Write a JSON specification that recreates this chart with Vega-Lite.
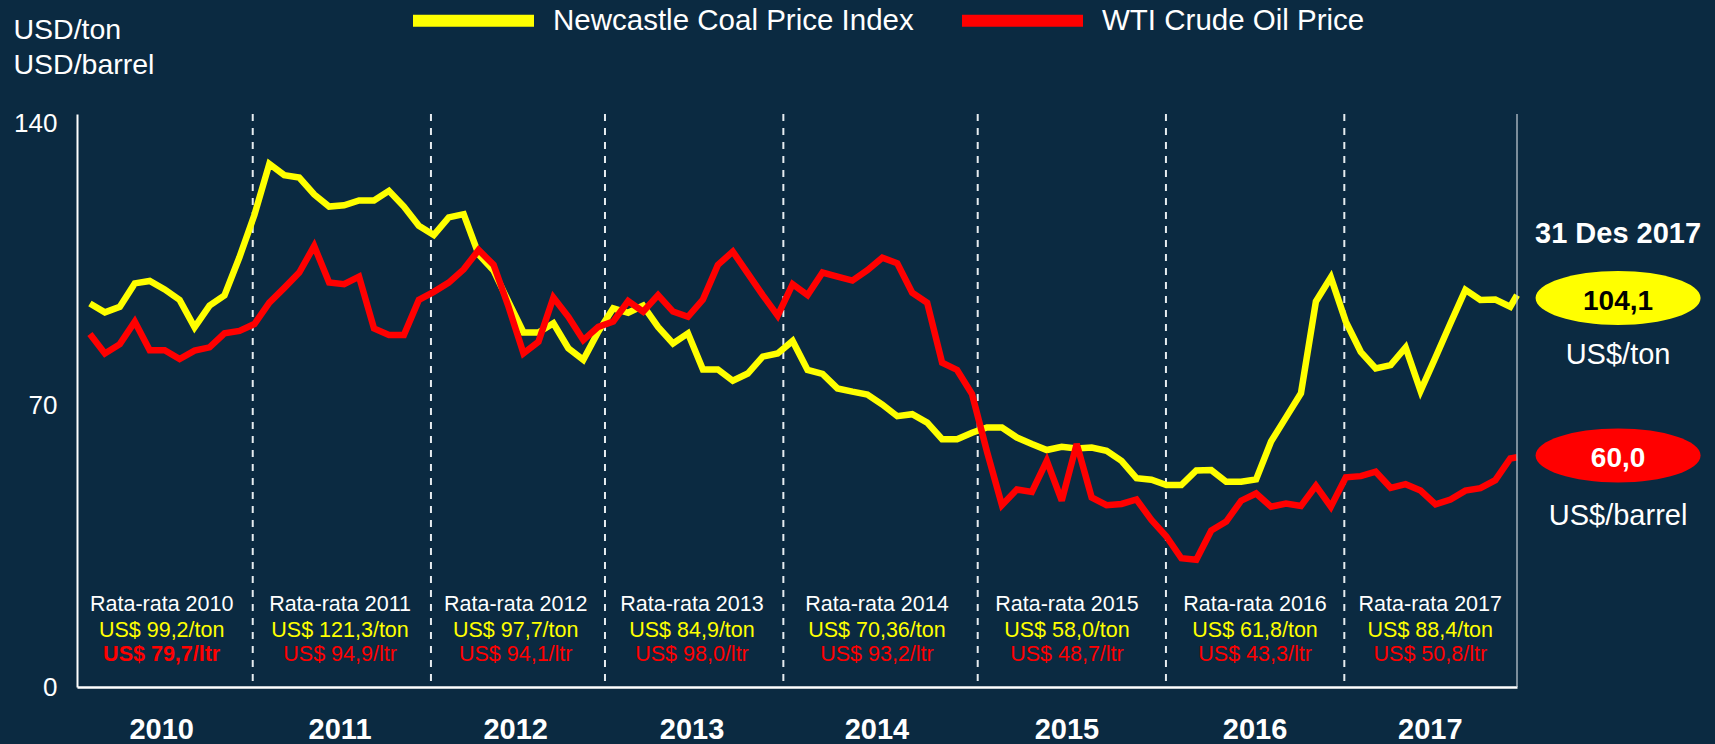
{
  "$schema": "https://vega.github.io/schema/vega-lite/v6.json",
  "width": 1440,
  "height": 573,
  "autosize": "none",
  "padding": {"left": 77, "top": 114, "right": 198, "bottom": 57},
  "background": "#0b2a41",
  "config": {
    "view": {"stroke": null},
    "font": "Liberation Sans",
    "axis": {"grid": false}
  },
  "datasets": {
    "prices": [
      {"k":0,"coal":95.3,"oil":87.7},{"k":1,"coal":93.1,"oil":82.9},{"k":2,"coal":94.5,"oil":85.2},{"k":3,"coal":100.3,"oil":90.8},
      {"k":4,"coal":100.9,"oil":83.7},{"k":5,"coal":98.8,"oil":83.7},{"k":6,"coal":96.2,"oil":81.5},{"k":7,"coal":89.4,"oil":83.6},
      {"k":8,"coal":94.8,"oil":84.4},{"k":9,"coal":97.3,"oil":87.9},{"k":10,"coal":106.8,"oil":88.5},{"k":11,"coal":117.3,"oil":90.2},
      {"k":12,"coal":130.0,"oil":95.5},{"k":13,"coal":127.2,"oil":99.2},{"k":14,"coal":126.6,"oil":103.0},{"k":15,"coal":122.4,"oil":109.6},
      {"k":16,"coal":119.4,"oil":100.5},{"k":17,"coal":119.7,"oil":100.1},{"k":18,"coal":120.9,"oil":102.0},{"k":19,"coal":120.9,"oil":89.1},
      {"k":20,"coal":123.3,"oil":87.5},{"k":21,"coal":119.4,"oil":87.5},{"k":22,"coal":114.6,"oil":96.2},{"k":23,"coal":112.3,"oil":98.2},
      {"k":24,"coal":116.7,"oil":100.5},{"k":25,"coal":117.5,"oil":103.8},{"k":26,"coal":107.5,"oil":108.6},{"k":27,"coal":103.5,"oil":104.9},
      {"k":28,"coal":95.7,"oil":94.5},{"k":29,"coal":88.1,"oil":82.9},{"k":30,"coal":88.1,"oil":85.8},{"k":31,"coal":90.4,"oil":96.8},
      {"k":32,"coal":84.2,"oil":92.0},{"k":33,"coal":81.3,"oil":86.2},{"k":34,"coal":88.3,"oil":89.5},{"k":35,"coal":94.1,"oil":90.8},
      {"k":36,"coal":93.0,"oil":95.9},{"k":37,"coal":94.8,"oil":93.3},{"k":38,"coal":89.5,"oil":97.4},{"k":39,"coal":85.4,"oil":93.3},
      {"k":40,"coal":87.9,"oil":92.0},{"k":41,"coal":78.9,"oil":96.3},{"k":42,"coal":78.9,"oil":104.9},{"k":43,"coal":76.1,"oil":108.2},
      {"k":44,"coal":77.9,"oil":102.8},{"k":45,"coal":82.1,"oil":97.4},{"k":46,"coal":82.9,"oil":92.3},{"k":47,"coal":86.0,"oil":100.1},
      {"k":48,"coal":78.8,"oil":97.4},{"k":49,"coal":77.8,"oil":103.0},{"k":50,"coal":74.2,"oil":102.0},{"k":51,"coal":73.4,"oil":101.0},
      {"k":52,"coal":72.7,"oil":103.6},{"k":53,"coal":70.2,"oil":106.7},{"k":54,"coal":67.3,"oil":105.3},{"k":55,"coal":67.8,"oil":98.0},
      {"k":56,"coal":65.7,"oil":95.5},{"k":57,"coal":61.6,"oil":80.6},{"k":58,"coal":61.6,"oil":78.8},{"k":59,"coal":63.2,"oil":72.8},
      {"k":60,"coal":64.5,"oil":58.5},{"k":61,"coal":64.5,"oil":45.2},{"k":62,"coal":62.0,"oil":49.1},{"k":63,"coal":60.4,"oil":48.5},
      {"k":64,"coal":58.9,"oil":56.2},{"k":65,"coal":59.7,"oil":46.3},{"k":66,"coal":59.3,"oil":60.4},{"k":67,"coal":59.5,"oil":47.1},
      {"k":68,"coal":58.7,"oil":45.2},{"k":69,"coal":56.2,"oil":45.5},{"k":70,"coal":51.9,"oil":46.6},{"k":71,"coal":51.5,"oil":41.5},
      {"k":72,"coal":50.2,"oil":37.4},{"k":73,"coal":50.2,"oil":32.0},{"k":74,"coal":53.8,"oil":31.6},{"k":75,"coal":53.9,"oil":38.9},
      {"k":76,"coal":51.0,"oil":41.1},{"k":77,"coal":51.0,"oil":46.3},{"k":78,"coal":51.6,"oil":48.1},{"k":79,"coal":61.0,"oil":44.8},
      {"k":80,"coal":67.0,"oil":45.6},{"k":81,"coal":73.0,"oil":45.0},{"k":82,"coal":95.8,"oil":50.0},{"k":83,"coal":101.8,"oil":44.8},
      {"k":84,"coal":90.8,"oil":52.1},{"k":85,"coal":83.3,"oil":52.4},{"k":86,"coal":79.2,"oil":53.5},{"k":87,"coal":80.0,"oil":49.5},
      {"k":88,"coal":84.4,"oil":50.4},{"k":89,"coal":73.6,"oil":48.8},{"k":90,"coal":81.9,"oil":45.4},{"k":91,"coal":90.4,"oil":46.6},
      {"k":92,"coal":98.7,"oil":48.8},{"k":93,"coal":96.2,"oil":49.4},{"k":94,"coal":96.3,"oil":51.4},{"k":95,"coal":94.5,"oil":56.8},
      {"k":95.45,"coal":97.4,"oil":57.1}
    ],
    "years": [
      {"year":"2010","start":null,"mid":4.80,"label":"Rata-rata 2010","coal":"US$ 99,2/ton","oil":"US$ 79,7/ltr"},
      {"year":"2011","start":10.89,"mid":16.73,"label":"Rata-rata 2011","coal":"US$ 121,3/ton","oil":"US$ 94,9/ltr"},
      {"year":"2012","start":22.81,"mid":28.48,"label":"Rata-rata 2012","coal":"US$ 97,7/ton","oil":"US$ 94,1/ltr"},
      {"year":"2013","start":34.45,"mid":40.27,"label":"Rata-rata 2013","coal":"US$ 84,9/ton","oil":"US$ 98,0/ltr"},
      {"year":"2014","start":46.38,"mid":52.64,"label":"Rata-rata 2014","coal":"US$ 70,36/ton","oil":"US$ 93,2/ltr"},
      {"year":"2015","start":59.38,"mid":65.35,"label":"Rata-rata 2015","coal":"US$ 58,0/ton","oil":"US$ 48,7/ltr"},
      {"year":"2016","start":71.97,"mid":77.93,"label":"Rata-rata 2016","coal":"US$ 61,8/ton","oil":"US$ 43,3/ltr"},
      {"year":"2017","start":83.90,"mid":89.65,"label":"Rata-rata 2017","coal":"US$ 88,4/ton","oil":"US$ 50,8/ltr"}
    ]
  },
  "layer": [
    {
      "data": {"name": "years"},
      "mark": {"type": "rule", "color": "#e6ecf0", "strokeWidth": 2, "strokeDash": [7, 7]},
      "encoding": {
        "x": {"field": "start", "type": "quantitative", "scale": {"domain": [-0.864, 95.45], "nice": false, "zero": false}, "axis": {"title": null}}
      }
    },
    {
      "data": {"name": "prices"},
      "transform": [{"fold": ["coal", "oil"], "as": ["series", "price"]}],
      "mark": {"type": "line", "strokeWidth": 6.5, "strokeCap": "butt", "strokeJoin": "miter", "strokeMiterLimit": 3},
      "encoding": {
        "x": {
          "field": "k", "type": "quantitative",
          "scale": {"domain": [-0.864, 95.45], "nice": false, "zero": false},
          "axis": {"title": null, "labels": false, "ticks": false, "domainColor": "#ffffff", "domainWidth": 2.5}
        },
        "y": {
          "field": "price", "type": "quantitative",
          "scale": {"domain": [0, 142.4], "nice": false, "zero": true},
          "axis": {
            "values": [0, 70, 140],
            "ticks": false, "tickSize": 0,
            "labelPadding": 20, "labelFontSize": 26, "labelColor": "#ffffff", "labelFont": "Liberation Sans",
            "domainColor": "#ffffff", "domainWidth": 2,
            "title": ["USD/ton", "USD/barrel"],
            "titleAngle": 0, "titleAlign": "left", "titleBaseline": "alphabetic",
            "titleX": -64, "titleY": -76, "titleFontSize": 28.5, "titleFontWeight": "normal",
            "titleColor": "#ffffff", "titleLineHeight": 35, "titleFont": "Liberation Sans"
          }
        },
        "color": {
          "field": "series", "type": "nominal",
          "scale": {"domain": ["coal", "oil"], "range": ["#ffff00", "#ff0000"]},
          "legend": {
            "orient": "none", "legendX": 330, "legendY": -160, "direction": "horizontal",
            "title": null, "padding": 0,
            "symbolType": "stroke", "symbolSize": 14641, "symbolStrokeWidth": 12,
            "labelFontSize": 29.5, "labelColor": "#ffffff", "labelFont": "Liberation Sans",
            "labelOffset": 13, "columnPadding": 24, "labelLimit": 600,
            "labelExpr": "datum.label == 'coal' ? 'Newcastle Coal Price Index' : 'WTI Crude Oil Price'"
          }
        }
      }
    },
    {
      "data": {"values": [{}]},
      "mark": {"type": "rule", "color": "#c8d0d8", "strokeWidth": 1.2},
      "encoding": {"x": {"datum": 95.45, "type": "quantitative"}}
    },
    {
      "data": {"name": "years"},
      "mark": {"type": "text", "color": "#ffffff", "fontSize": 29, "fontWeight": "bold", "baseline": "alphabetic", "align": "center"},
      "encoding": {
        "x": {"field": "mid", "type": "quantitative", "axis": {"title": null}},
        "y": {"datum": -12.9, "type": "quantitative"},
        "text": {"field": "year"}
      }
    },
    {
      "data": {"name": "years"},
      "mark": {"type": "text", "color": "#ffffff", "fontSize": 21.5, "baseline": "middle", "align": "center"},
      "encoding": {
        "x": {"field": "mid", "type": "quantitative", "axis": {"title": null}},
        "y": {"datum": 20.4, "type": "quantitative"},
        "text": {"field": "label"}
      }
    },
    {
      "data": {"name": "years"},
      "mark": {"type": "text", "color": "#ffff00", "fontSize": 21.5, "baseline": "middle", "align": "center"},
      "encoding": {
        "x": {"field": "mid", "type": "quantitative", "axis": {"title": null}},
        "y": {"datum": 14.04, "type": "quantitative"},
        "text": {"field": "coal"}
      }
    },
    {
      "data": {"name": "years"},
      "transform": [{"filter": "datum.year !== '2010'"}],
      "mark": {"type": "text", "color": "#ff0000", "fontSize": 21.5, "baseline": "middle", "align": "center"},
      "encoding": {
        "x": {"field": "mid", "type": "quantitative", "axis": {"title": null}},
        "y": {"datum": 7.83, "type": "quantitative"},
        "text": {"field": "oil"}
      }
    },
    {
      "data": {"name": "years"},
      "transform": [{"filter": "datum.year === '2010'"}],
      "mark": {"type": "text", "color": "#ff0000", "fontSize": 21.5, "fontWeight": "bold", "baseline": "middle", "align": "center"},
      "encoding": {
        "x": {"field": "mid", "type": "quantitative", "axis": {"title": null}},
        "y": {"datum": 7.83, "type": "quantitative"},
        "text": {"field": "oil"}
      }
    },
    {
      "data": {"values": [{}]},
      "mark": {"type": "text", "text": "31 Des 2017", "color": "#ffffff", "fontSize": 29, "fontWeight": "bold", "baseline": "alphabetic", "align": "center"},
      "encoding": {"x": {"datum": 102.21, "type": "quantitative"}, "y": {"datum": 110.34, "type": "quantitative"}}
    },
    {
      "data": {"values": [{}]},
      "mark": {"type": "point", "shape": "M-1,0A1,0.327,0,1,1,1,0A1,0.327,0,1,1,-1,0Z", "filled": true, "size": 27225, "color": "#ffff00", "opacity": 1, "strokeWidth": 0},
      "encoding": {"x": {"datum": 102.21, "type": "quantitative"}, "y": {"datum": 96.67, "type": "quantitative"}}
    },
    {
      "data": {"values": [{}]},
      "mark": {"type": "text", "text": "104,1", "color": "#000000", "fontSize": 28, "fontWeight": "bold", "baseline": "alphabetic", "align": "center"},
      "encoding": {"x": {"datum": 102.21, "type": "quantitative"}, "y": {"datum": 93.7, "type": "quantitative"}}
    },
    {
      "data": {"values": [{}]},
      "mark": {"type": "text", "text": "US$/ton", "color": "#ffffff", "fontSize": 29, "baseline": "alphabetic", "align": "center"},
      "encoding": {"x": {"datum": 102.21, "type": "quantitative"}, "y": {"datum": 80.27, "type": "quantitative"}}
    },
    {
      "data": {"values": [{}]},
      "mark": {"type": "point", "shape": "M-1,0A1,0.327,0,1,1,1,0A1,0.327,0,1,1,-1,0Z", "filled": true, "size": 27225, "color": "#ff0000", "opacity": 1, "strokeWidth": 0},
      "encoding": {"x": {"datum": 102.21, "type": "quantitative"}, "y": {"datum": 57.53, "type": "quantitative"}}
    },
    {
      "data": {"values": [{}]},
      "mark": {"type": "text", "text": "60,0", "color": "#ffffff", "fontSize": 28, "fontWeight": "bold", "baseline": "alphabetic", "align": "center"},
      "encoding": {"x": {"datum": 102.21, "type": "quantitative"}, "y": {"datum": 54.75, "type": "quantitative"}}
    },
    {
      "data": {"values": [{}]},
      "mark": {"type": "text", "text": "US$/barrel", "color": "#ffffff", "fontSize": 29, "baseline": "alphabetic", "align": "center"},
      "encoding": {"x": {"datum": 102.21, "type": "quantitative"}, "y": {"datum": 40.26, "type": "quantitative"}}
    }
  ]
}
